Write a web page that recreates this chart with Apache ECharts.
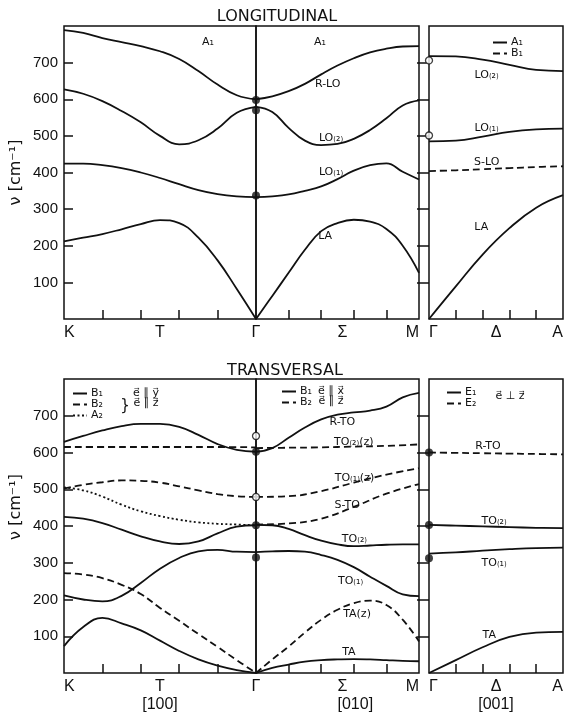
<!DOCTYPE html>
<html>
<head>
<meta charset="utf-8">
<script src="https://cdn.jsdelivr.net/npm/echarts@6/dist/echarts.min.js"></script>
<style>
html, body { margin: 0; background: #fff; }
#main { width: 566px; height: 717px; }
</style>
</head>
<body>
<div id="main"></div>
<script>
// positions along a branch: 0 = left symmetry point, 5 = right one
var xsHalf = [0, 0.5, 1, 1.5, 2, 2.5, 3, 3.5, 4, 4.5, 5];
var xsInt = [0, 1, 2, 3, 4, 5];

// ---- LONGITUDINAL ----
// K -> Gamma
var lKG_RLO = [789, 781, 767, 756, 745, 731, 710, 677, 640, 611, 600];
var lKG_LO2 = [627, 615, 595, 568, 537, 500, 477, 488, 520, 563, 579];
var lKG_LO1 = [424, 424, 420, 412, 400, 385, 368, 352, 341, 335, 333];
var lKG_LA = [212, 222, 232, 245, 259, 270, 262, 222, 160, 82, 0];
// Gamma -> M
var lGM_RLO = [600, 608, 622, 642, 668, 692, 712, 728, 738, 744, 745];
var lGM_LO2 = [579, 565, 522, 487, 475, 478, 492, 516, 548, 583, 597];
var lGM_LO1 = [333, 335, 340, 350, 362, 382, 405, 420, 425, 402, 381];
var lGM_LA = [0, 63, 126, 189, 240, 262, 271, 266, 246, 200, 126];
// Gamma -> A
var lGA_LO2 = [718, 717, 708, 694, 680, 677];
var lGA_LO1 = [485, 487, 498, 511, 518, 520];
var lGA_SLO = [404, 406, 409, 412, 415, 417];
var lGA_LA = [0, 89, 176, 248, 304, 338];
// measured points at Gamma
var lDotsFilled = [598, 570, 337];
var lDotsOpen = [706, 501];

// ---- TRANSVERSAL ----
// K -> Gamma
var tKG_RTO = [629, 645, 660, 672, 678, 678, 670, 648, 623, 607, 602];
var tKG_TO2z = [615, 615, 615, 615, 615, 614];
var tKG_TO1z = [502, 512, 519, 524, 523, 518, 508, 497, 487, 481, 479];
var tKG_A2 = [505, 497, 480, 458, 440, 427, 417, 410, 406, 404, 402];
var tKG_TO2 = [425, 420, 408, 390, 372, 358, 351, 358, 380, 398, 402];
var tKG_TO1 = [211, 200, 195, 210, 245, 284, 313, 331, 335, 330, 329];
var tKG_TAz = [272, 268, 258, 240, 215, 177, 142, 106, 71, 35, 0];
var tKG_TA = [73, 125, 150, 135, 116, 88, 60, 37, 20, 8, 0];
// Gamma -> M
var tGM_RTO = [602, 612, 640, 668, 690, 703, 709, 714, 725, 750, 762];
var tGM_TO2z = [612, 613, 614, 616, 618, 622];
var tGM_TO1z = [479, 481, 495, 518, 540, 557];
var tGM_STO = [404, 407, 420, 452, 488, 514];
var tGM_TO2 = [403, 402, 392, 375, 360, 350, 345, 347, 349, 350, 350];
var tGM_TO1 = [329, 331, 332, 330, 321, 308, 288, 262, 237, 214, 209];
var tGM_TAz = [0, 37, 72, 110, 145, 172, 190, 197, 185, 145, 86];
var tGM_TA = [0, 14, 23, 31, 35, 37, 38, 37, 35, 33, 32];
// Gamma -> A
var tGA_RTO = [600, 599, 598, 597, 596, 595];
var tGA_TO2 = [403, 401, 399, 397, 395, 394];
var tGA_TO1 = [325, 328, 333, 337, 340, 341];
var tGA_TA = [0, 35, 70, 98, 110, 112];
var tDotsFilled = [602, 402, 314];
var tDotsOpen = [645, 479];
var tDotsFilledA = [600, 403, 312];

// tick labels, at branch positions 0, 2.5, 5
var labelPos = [0, 2.5, 5];
var topLabels = [['K', 'T', 'Γ'], ['', 'Σ', 'M'], ['Γ', 'Δ', 'A']];
var botLabels = [['K', 'T\n[100]', 'Γ'], ['', 'Σ\n[010]', 'M'], ['Γ', 'Δ\n[001]', 'A']];
var yTicks = [100, 200, 300, 400, 500, 600, 700];

var INK = '#111';
var FONT = 'Liberation Sans';
var SUBFONT = 'DejaVu Sans';

var chart = echarts.init(document.getElementById('main'));

// panel boxes: top row and bottom row share x positions
var cols = [
  { left: 64, width: 192 },
  { left: 256, width: 163 },
  { left: 429, width: 139 }
];
var grids = [];
[{ top: 26, height: 293 }, { top: 379, height: 294 }].forEach(function (row) {
  cols.forEach(function (c) {
    grids.push({
      left: c.left, width: c.width, top: row.top, height: row.height,
      show: true, borderColor: INK, borderWidth: 1.5, containLabel: false
    });
  });
});

var xAxes = [], yAxes = [];
grids.forEach(function (g, i) {
  var col = i % 3;
  var labs = i < 3 ? topLabels[col] : botLabels[col];
  var vals = [], map = {};
  labelPos.forEach(function (p, k) {
    if (labs[k]) { vals.push(p); map[p] = labs[k]; }
  });
  xAxes.push({
    gridIndex: i, type: 'value', min: 0, max: 5,
    axisLine: { show: false },
    splitLine: { show: false },
    axisTick: { inside: true, length: 9, customValues: [1, 2, 3, 4],
      lineStyle: { color: INK, width: 1.5 } },
    axisLabel: {
      customValues: vals, margin: 5,
      color: INK, fontFamily: FONT, fontSize: 16, lineHeight: 18,
      showMinLabel: true, showMaxLabel: true,
      alignMinLabel: 'left', alignMaxLabel: col === 0 ? 'center' : 'right',
      formatter: function (v) { return map[v] || ''; }
    }
  });
  var y = {
    gridIndex: i, type: 'value', min: 0, max: 800, interval: 100,
    axisLine: { show: false },
    splitLine: { show: false },
    axisTick: { show: col !== 1, inside: true, length: col === 2 ? 12 : 9, customValues: yTicks,
      lineStyle: { color: INK, width: 1.5 } },
    axisLabel: { show: col === 0, customValues: yTicks, margin: 6,
      color: INK, fontFamily: FONT, fontSize: 15 },
    position: col === 2 ? 'right' : 'left'
  };
  if (col === 0) {
    y.name = 'ν [cm⁻¹]';
    y.nameLocation = 'middle';
    y.nameGap = 40;
    y.nameTextStyle = { color: INK, fontFamily: SUBFONT, fontSize: 16,
      padding: i === 3 ? [0, 0, 0, 38] : 0 };
  }
  yAxes.push(y);
});

function pts(xs, ys) {
  return xs.map(function (x, k) { return [x, ys[k]]; });
}
var DASH = [7, 4];
var DOT = [2, 2.5];
function curve(grid, name, xs, ys, type) {
  return {
    type: 'line', name: name, xAxisIndex: grid, yAxisIndex: grid,
    data: pts(xs, ys), smooth: 0.45, symbol: 'none', silent: true,
    lineStyle: { color: INK, width: 1.8, type: type || 'solid' },
    itemStyle: { color: INK }
  };
}
function dots(grid, ys, open) {
  return {
    type: 'scatter', xAxisIndex: grid, yAxisIndex: grid, clip: false,
    data: ys.map(function (v) { return [0, v]; }),
    symbol: 'circle', symbolSize: open ? 7 : 8, silent: true, z: 5,
    itemStyle: open ? { color: '#fff', borderColor: INK, borderWidth: 1.3 } : { color: INK }
  };
}

// the longitudinal B1 gets its own legend key (trailing space) so the
// transversal B1 key keeps a solid line
var L_B1 = 'B₁ ';

var series = [
  curve(0, 'A₁', xsHalf, lKG_RLO),
  curve(0, 'A₁', xsHalf, lKG_LO2),
  curve(0, 'A₁', xsHalf, lKG_LO1),
  curve(0, 'A₁', xsHalf, lKG_LA),
  curve(1, 'A₁', xsHalf, lGM_RLO),
  curve(1, 'A₁', xsHalf, lGM_LO2),
  curve(1, 'A₁', xsHalf, lGM_LO1),
  curve(1, 'A₁', xsHalf, lGM_LA),
  curve(2, 'A₁', xsInt, lGA_LO2),
  curve(2, 'A₁', xsInt, lGA_LO1),
  curve(2, L_B1, xsInt, lGA_SLO, DASH),
  curve(2, 'A₁', xsInt, lGA_LA),
  dots(1, lDotsFilled, false),
  dots(2, lDotsOpen, true),

  curve(3, 'B₁', xsHalf, tKG_RTO),
  curve(3, 'B₂', xsInt, tKG_TO2z, DASH),
  curve(3, 'B₂', xsHalf, tKG_TO1z, DASH),
  curve(3, 'A₂', xsHalf, tKG_A2, DOT),
  curve(3, 'B₁', xsHalf, tKG_TO2),
  curve(3, 'B₁', xsHalf, tKG_TO1),
  curve(3, 'B₂', xsHalf, tKG_TAz, DASH),
  curve(3, 'B₁', xsHalf, tKG_TA),
  curve(4, 'B₁', xsHalf, tGM_RTO),
  curve(4, 'B₂', xsInt, tGM_TO2z, DASH),
  curve(4, 'B₂', xsInt, tGM_TO1z, DASH),
  curve(4, 'B₂', xsInt, tGM_STO, DASH),
  curve(4, 'B₁', xsHalf, tGM_TO2),
  curve(4, 'B₁', xsHalf, tGM_TO1),
  curve(4, 'B₂', xsHalf, tGM_TAz, DASH),
  curve(4, 'B₁', xsHalf, tGM_TA),
  curve(5, 'E₂', xsInt, tGA_RTO, DASH),
  curve(5, 'E₁', xsInt, tGA_TO2),
  curve(5, 'E₁', xsInt, tGA_TO1),
  curve(5, 'E₁', xsInt, tGA_TA),
  dots(4, tDotsFilled, false),
  dots(4, tDotsOpen, true),
  dots(5, tDotsFilledA, false)
];

function legend(names, left, top) {
  return {
    data: names, left: left, top: top, orient: 'vertical',
    selectedMode: false, itemWidth: 14, itemHeight: 6, itemGap: 0,
    padding: 0,
    itemStyle: { opacity: 0 },
    textStyle: { color: INK, fontFamily: SUBFONT, fontSize: 11, lineHeight: 10, padding: [0, 0, 0, -1] }
  };
}

chart.setOption({
  animation: false,
  backgroundColor: '#fff',
  title: [
    { text: 'LONGITUDINAL', left: 272, top: 4, textAlign: 'center',
      textStyle: { color: INK, fontFamily: SUBFONT, fontSize: 16, fontWeight: 'normal' } },
    { text: 'TRANSVERSAL', left: 280, top: 358, textAlign: 'center',
      textStyle: { color: INK, fontFamily: SUBFONT, fontSize: 16, fontWeight: 'normal' } }
  ],
  legend: [
    legend(['A₁', L_B1], 492, 37),
    legend(['B₁', 'B₂', 'A₂'], 72, 388),
    legend(['B₁', 'B₂'], 281, 386),
    legend(['E₁', 'E₂'], 446, 387)
  ],
  grid: grids,
  xAxis: xAxes,
  yAxis: yAxes,
  series: series
});

// curve labels, placed in each panel's data coordinates
var curveLabels = [
  [0, 3.75, 755, 'A₁'], [1, 1.96, 755, 'A₁'],
  [1, 2.2, 640, 'R-LO'], [1, 2.3, 495, 'LO₍₂₎'], [1, 2.3, 402, 'LO₍₁₎'], [1, 2.12, 225, 'LA'],
  [2, 2.15, 667, 'LO₍₂₎'], [2, 2.15, 522, 'LO₍₁₎'], [2, 2.15, 427, 'S-LO'], [2, 1.95, 250, 'LA'],
  [4, 2.65, 682, 'R-TO'], [4, 3.0, 627, 'TO₍₂₎(z)'], [4, 3.02, 530, 'TO₍₁₎(z)'],
  [4, 2.8, 456, 'S-TO'], [4, 3.02, 364, 'TO₍₂₎'], [4, 2.9, 249, 'TO₍₁₎'],
  [4, 3.1, 159, 'TA(z)'], [4, 2.85, 58, 'TA'],
  [5, 2.2, 617, 'R-TO'], [5, 2.43, 412, 'TO₍₂₎'], [5, 2.43, 300, 'TO₍₁₎'], [5, 2.25, 102, 'TA']
];
var graphics = curveLabels.map(function (l) {
  var p = chart.convertToPixel({ gridIndex: l[0] }, [l[1], l[2]]);
  return {
    type: 'text', x: p[0], y: p[1], silent: true,
    style: { text: l[3], fill: INK, font: '11px "' + SUBFONT + '"', align: 'center', verticalAlign: 'middle' }
  };
});
// polarisation notes next to the legends
[
  [146, 393, 'e⃗ ∥ y⃗'], [146, 403, 'e⃗ ∥ z⃗'], [125, 406, '}'],
  [331, 391, 'e⃗ ∥ x⃗'], [331, 401, 'e⃗ ∥ z⃗'], [510, 396, 'e⃗ ⊥ z⃗']
].forEach(function (t) {
  graphics.push({
    type: 'text', x: t[0], y: t[1], silent: true,
    style: { text: t[2], fill: INK, font: (t[2] === '}' ? '15px' : '11px') + ' "' + SUBFONT + '"',
      align: 'center', verticalAlign: 'middle' }
  });
});
chart.setOption({ graphic: graphics });
</script>
</body>
</html>
